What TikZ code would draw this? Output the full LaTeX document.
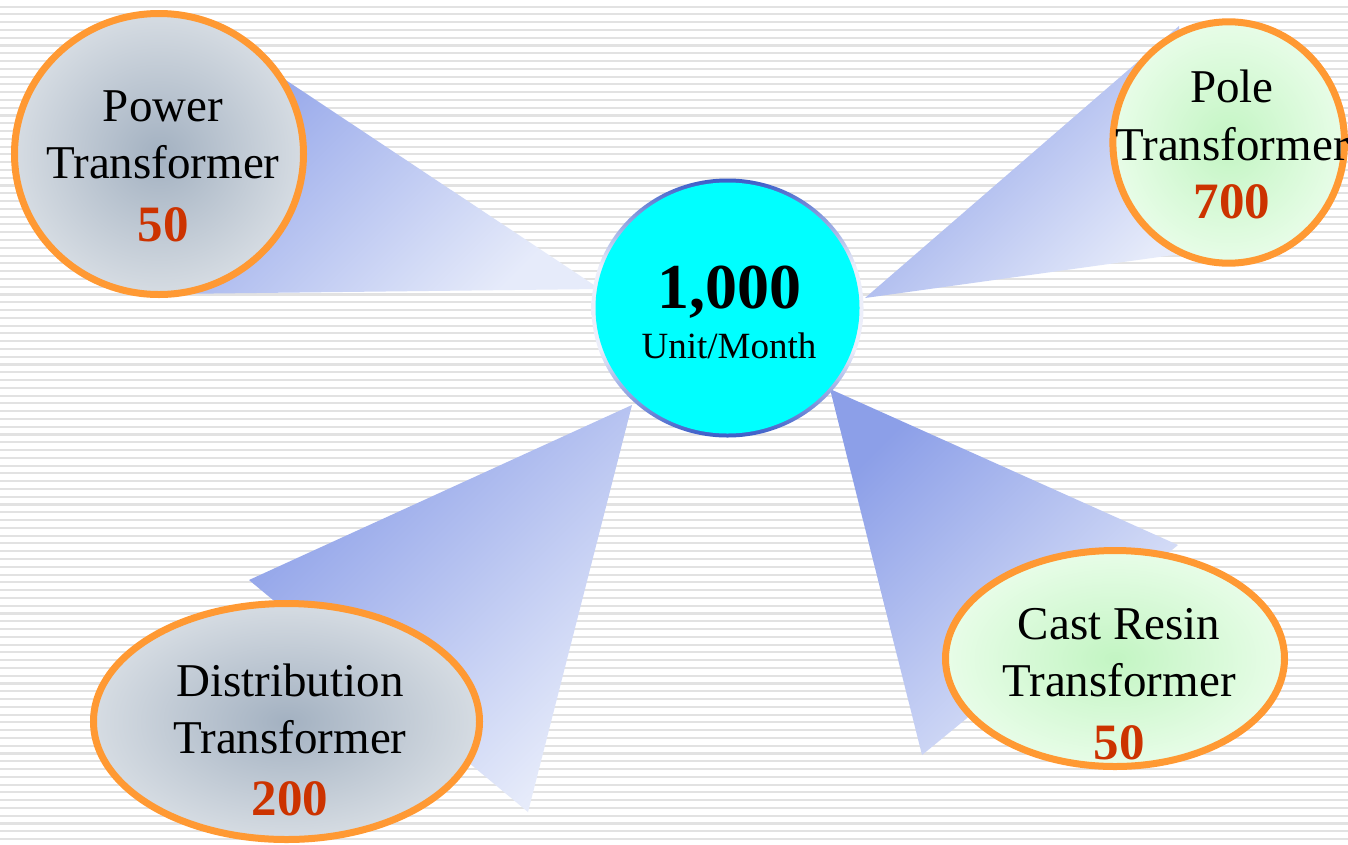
\documentclass[tikz,border=0pt]{standalone}
\usepackage{fontspec}
\setmainfont{Liberation Serif}
\usetikzlibrary{shapes.geometric}
\definecolor{stripe}{HTML}{E2E2E2}
\definecolor{ringorange}{HTML}{FF9933}
\definecolor{numred}{HTML}{CC3300}
\definecolor{wdark}{HTML}{8C9FE8}
\definecolor{wlight}{HTML}{E6EBFA}
\definecolor{hubcyan}{HTML}{00FFFF}
\definecolor{hubblue}{HTML}{3A5CC8}
\definecolor{hublight}{HTML}{ECEEFA}
\definecolor{gin}{HTML}{A3B1C1}
\definecolor{gout}{HTML}{E4E8EC}
\definecolor{nin}{HTML}{C3F5C3}
\definecolor{nout}{HTML}{F2FFF2}
\pgfdeclareradialshading{grayball}{\pgfpoint{0bp}{0bp}}{color(0bp)=(gin); color(32bp)=(gout); color(50bp)=(gout)}
\pgfdeclareradialshading{greenball}{\pgfpoint{0bp}{0bp}}{color(0bp)=(nin); color(32bp)=(nout); color(50bp)=(nout)}
\pgfdeclareverticalshading{hubringshade}{100bp}{color(0bp)=(hubblue); color(25bp)=(hubblue); color(42bp)=(hublight); color(58bp)=(hublight); color(75bp)=(hubblue); color(100bp)=(hubblue)}
\tikzset{
  bubble/.style={ellipse, draw=ringorange, line width=7pt, inner sep=0pt},
  graybub/.style={bubble, shade, shading=grayball},
  greenbub/.style={bubble, shade, shading=greenball},
  wedge/.style={top color=wdark, bottom color=wlight, shading angle=45},
  lbl/.style={align=center, inner sep=0pt, font=\fontsize{47}{57}\selectfont},
  stripeline/.style={draw=stripe, line width=2.1pt},
}
\newcommand{\numtxt}[1]{{\fontsize{51}{57}\selectfont\bfseries\color{numred}#1}}
\begin{document}
\begin{tikzpicture}[x=1pt,y=-1pt]
\useasboundingbox (0,0) rectangle (1348,844);
\clip (0,0) rectangle (1348,844);
\fill[white] (0,0) rectangle (1348,844);
\foreach \k in {0,...,107}{
  \draw[stripeline] (0,{6.6+7.78*\k}) -- (1348,{6.6+7.78*\k});
}
% wedge corners
\coordinate (pwA) at (600,289); \coordinate (pwB) at (200,23); \coordinate (pwC) at (170,294);
\coordinate (plA) at (865,298); \coordinate (plB) at (1179,26); \coordinate (plC) at (1195,252);
\coordinate (dsA) at (632,405); \coordinate (dsB) at (249,580); \coordinate (dsC) at (528,812);
\coordinate (csA) at (830,389); \coordinate (csB) at (1178,545); \coordinate (csC) at (922,755);
\shade[wedge] (pwA) -- (pwB) -- (pwC) -- cycle;
\shade[wedge] (plA) -- (plB) -- (plC) -- cycle;
\shade[wedge] (dsA) -- (dsB) -- (dsC) -- cycle;
\shade[wedge] (csA) -- (csB) -- (csC) -- cycle;
% hub
\node[ellipse, inner sep=0pt, minimum width=272pt, minimum height=259pt,
      shade, shading=hubringshade] (hubring) at (727.5,308) {};
\node[ellipse, inner sep=0pt, fill=hubcyan, minimum width=264pt, minimum height=251pt] (hub) at (hubring.center) {};
% bubbles
\node[graybub, minimum width=289pt, minimum height=281pt] (power) at (159,154) {};
\node[greenbub, minimum width=231.6pt, minimum height=241.4pt] (pole) at (1228.7,142.5) {};
\node[graybub, minimum width=386pt, minimum height=236pt] (dist) at (286.5,721.5) {};
\node[greenbub, minimum width=339pt, minimum height=216pt] (cast) at (1115,658.5) {};
% labels
\node[lbl] (powerT) at (163,166.5) {Power\\Transformer\\[6pt]\numtxt{50}};
\node[lbl, font=\fontsize{47}{58}\selectfont] (poleT) at (1232,144) {Pole\\Transformer\\\numtxt{700}};
\node[lbl] (distT) at (290,739.5) {Distribution\\Transformer\\[5pt]\numtxt{200}};
\node[lbl] (castT) at (1119,684) {Cast Resin\\Transformer\\[6pt]\numtxt{50}};
\node[align=center, inner sep=0pt, font=\fontsize{37}{50}\selectfont] (hubT) at (729,312)
  {{\fontsize{64}{50}\selectfont\bfseries 1,000}\\Unit/Month};
\end{tikzpicture}
\end{document}
